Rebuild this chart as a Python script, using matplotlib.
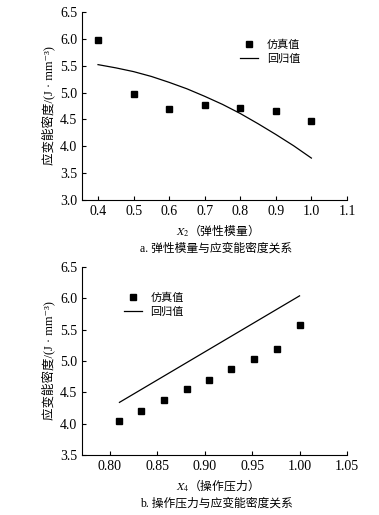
import matplotlib.pyplot as plt

plt.rcParams['font.family'] = ['Liberation Serif', 'Noto Sans CJK SC', 'DejaVu Serif']
plt.rcParams['mathtext.fontset'] = 'stix'

# panel a
x2_sim = [0.4, 0.5, 0.6, 0.7, 0.8, 0.9, 1.0]
y2_sim = [5.97, 4.97, 4.70, 4.77, 4.72, 4.65, 4.47]
x2_reg = [0.4, 0.45, 0.5, 0.55, 0.6, 0.65, 0.7, 0.75, 0.8, 0.85, 0.9, 0.95, 1.0]
y2_reg = [5.52, 5.46, 5.39, 5.30, 5.19, 5.07, 4.93, 4.78, 4.61, 4.42, 4.22, 4.01, 3.78]

# panel b
x4_sim = [0.81, 0.833, 0.857, 0.881, 0.905, 0.928, 0.952, 0.976, 1.0]
y4_sim = [4.04, 4.21, 4.38, 4.55, 4.70, 4.87, 5.03, 5.19, 5.58]
x4_reg = [0.81, 1.0]
y4_reg = [4.34, 6.04]

fig = plt.figure(figsize=(3.79, 5.15), dpi=100)
ax1 = fig.add_axes([0.2164, 0.6117, 0.699, 0.365])
ax2 = fig.add_axes([0.2164, 0.1165, 0.699, 0.365])

ylab = '应变能密度/(J · mm⁻³)'
cjk = 'Noto Sans CJK SC'

def style(ax):
    for s in ['top', 'right']:
        ax.spines[s].set_visible(False)
    ax.spines['left'].set_linewidth(0.8)
    ax.spines['bottom'].set_linewidth(0.8)
    ax.tick_params(direction='in', length=3, width=0.8, labelsize=10)
    ax.set_ylabel(ylab, fontsize=9, labelpad=3)

ax1.plot(x2_sim, y2_sim, 's', color='black', markersize=5, label='仿真值')
ax1.plot(x2_reg, y2_reg, '-', color='black', linewidth=0.9, label='回归值')
ax1.set_xlim(0.355, 1.1)
ax1.set_ylim(3.0, 6.5)
ax1.set_xticks([0.4, 0.5, 0.6, 0.7, 0.8, 0.9, 1.0, 1.1])
ax1.set_yticks([3.0, 3.5, 4.0, 4.5, 5.0, 5.5, 6.0, 6.5])
ax1.xaxis.set_major_formatter(plt.FormatStrFormatter('%.1f'))
ax1.yaxis.set_major_formatter(plt.FormatStrFormatter('%.1f'))
style(ax1)
ax1.set_xlabel('$X_2$（弹性模量）', fontsize=8.5, labelpad=3, family=cjk)
ax1.legend(loc='upper left', bbox_to_anchor=(0.56, 0.91), frameon=False,
           prop={'family': cjk, 'size': 8}, handlelength=1.6, handletextpad=0.8,
           labelspacing=0.35)
fig.text(0.57, 0.518, 'a. 弹性模量与应变能密度关系', ha='center', va='center', fontsize=8.5)

ax2.plot(x4_sim, y4_sim, 's', color='black', markersize=5, label='仿真值')
ax2.plot(x4_reg, y4_reg, '-', color='black', linewidth=0.9, label='回归值')
ax2.set_xlim(0.7705, 1.05)
ax2.set_ylim(3.5, 6.5)
ax2.set_xticks([0.80, 0.85, 0.90, 0.95, 1.00, 1.05])
ax2.set_yticks([3.5, 4.0, 4.5, 5.0, 5.5, 6.0, 6.5])
ax2.xaxis.set_major_formatter(plt.FormatStrFormatter('%.2f'))
ax2.yaxis.set_major_formatter(plt.FormatStrFormatter('%.1f'))
style(ax2)
ax2.set_xlabel('$X_4$（操作压力）', fontsize=8.5, labelpad=3, family=cjk)
ax2.legend(loc='upper left', bbox_to_anchor=(0.12, 0.92), frameon=False,
           prop={'family': cjk, 'size': 8}, handlelength=1.6, handletextpad=0.8,
           labelspacing=0.35)
fig.text(0.57, 0.023, 'b. 操作压力与应变能密度关系', ha='center', va='center', fontsize=8.5)

fig.savefig('out.png', dpi=100)
